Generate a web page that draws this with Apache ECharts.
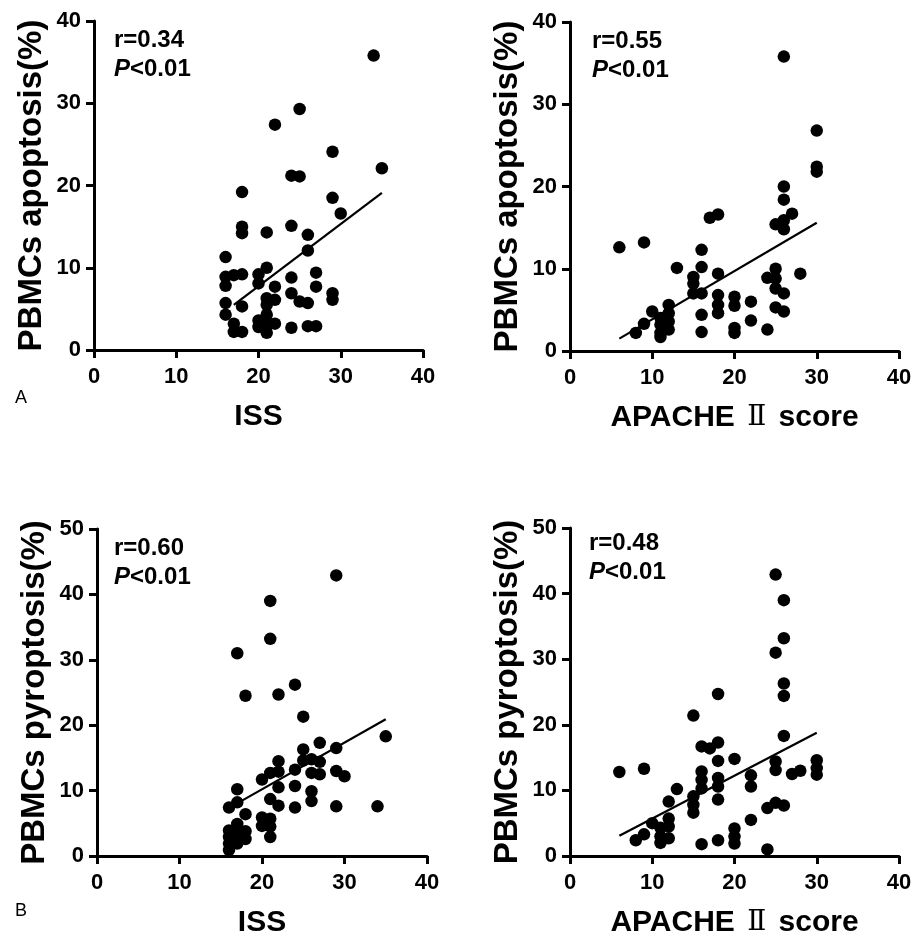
<!DOCTYPE html>
<html>
<head>
<meta charset="utf-8">
<script src="https://cdn.jsdelivr.net/npm/echarts@6/dist/echarts.min.js"></script>
<style>
html,body{margin:0;padding:0;background:#fff;}
#c{width:916px;height:939px;}
</style>
</head>
<body>
<div id="c"></div>
<script>
// ---------- data ----------
const issApoptosis = [[34,35.8],[25,29.3],[22,27.4],[29,24.1],[35,22.1],[24,21.2],[25,21.1],[18,19.2],[29,18.5],[30,16.6],[18,15.0],[18,14.2],[21,14.3],[24,15.1],[26,14.0],[26,12.1],[16,11.3],[21,10.0],[20,9.2],[20,8.1],[16,8.9],[16,7.8],[17,9.1],[18,9.2],[24,8.8],[27,9.4],[27,7.7],[22,7.7],[24,6.9],[29,6.9],[29,6.1],[21,6.3],[21,5.5],[22,6.1],[25,5.9],[26,5.7],[16,5.7],[18,5.3],[16,4.3],[21,4.3],[20,3.6],[20,2.8],[21,3.4],[21,2.1],[22,3.2],[17,3.2],[17,2.2],[18,2.2],[24,2.7],[26,2.9],[27,2.9],[21,2.9]];
const apacheApoptosis = [[26,35.8],[30,26.8],[30,22.4],[30,21.8],[26,20.0],[26,18.4],[25,15.4],[26,15.9],[27,16.7],[26,14.8],[17,16.2],[18,16.6],[6,12.6],[9,13.2],[16,12.3],[13,10.1],[15,9.0],[15,8.2],[15,7.0],[16,10.2],[16,7.0],[18,9.4],[18,6.8],[18,5.6],[18,4.6],[20,6.6],[20,5.5],[22,6.0],[22,3.7],[20,2.8],[20,2.2],[24,2.6],[16,2.3],[16,4.4],[25,10.0],[25,8.8],[24,8.9],[25,7.6],[26,7.0],[25,5.3],[26,4.8],[28,9.4],[10,4.8],[9,3.3],[8,2.2],[11,4.0],[11,3.2],[11,2.2],[11,1.7],[12,5.6],[12,4.6],[12,3.6],[12,2.6]];
const issPyroptosis = [[29,42.9],[21,39.0],[21,33.2],[17,31.0],[24,26.2],[18,24.5],[22,24.7],[25,21.3],[35,18.3],[27,17.3],[29,16.5],[25,16.3],[22,14.5],[24,13.2],[21,12.7],[22,12.9],[25,14.6],[26,14.8],[27,14.4],[26,12.7],[27,12.5],[29,13.0],[30,12.2],[20,11.7],[24,10.7],[22,10.5],[17,10.2],[26,9.9],[26,8.4],[21,8.7],[22,7.7],[24,7.4],[29,7.6],[34,7.6],[17,8.2],[16,7.4],[18,6.4],[20,5.9],[20,4.6],[21,5.7],[21,4.5],[21,2.9],[17,4.9],[16,3.9],[16,2.9],[16,1.9],[16,0.9],[17,3.9],[17,2.9],[17,1.9],[18,3.8],[18,2.6]];
const apachePyroptosis = [[25,42.9],[26,39.0],[26,33.2],[25,31.0],[26,26.3],[26,24.4],[18,24.7],[15,21.4],[26,18.3],[18,17.3],[16,16.7],[17,16.4],[18,14.5],[20,14.8],[25,14.4],[25,13.1],[30,14.6],[30,13.4],[30,12.4],[27,12.5],[28,13.0],[22,12.3],[22,10.6],[16,12.9],[16,11.6],[16,10.3],[18,11.9],[18,10.6],[18,8.6],[6,12.8],[9,13.3],[13,10.2],[12,8.3],[15,9.1],[15,7.8],[15,6.6],[24,7.3],[25,8.1],[26,7.7],[22,5.5],[10,5.0],[9,3.3],[8,2.4],[11,4.3],[11,3.0],[11,2.0],[12,5.7],[12,4.5],[12,2.7],[16,1.8],[18,2.4],[20,4.2],[20,3.0],[20,1.9],[24,1.0]];

const fitIssApoptosis = [[17,5.5],[35,19.1]];
const fitApacheApoptosis = [[6,1.5],[30,15.6]];
const fitIssPyroptosis = [[17.2,8.2],[35,20.9]];
const fitApachePyroptosis = [[6,3.1],[30,18.8]];

const rTexts = ['r=0.34','r=0.55','r=0.60','r=0.48'];
const pText = '<0.01';
const xNames = ['ISS','APACHE {r|Ⅱ} score','ISS','APACHE {r|Ⅱ} score'];
const yNames = ['PBMCs apoptosis(%)','PBMCs apoptosis(%)','PBMCs pyroptosis(%)','PBMCs pyroptosis(%)'];
const xMax = [40,40,40,40];
const yMax = [40,40,50,50];
const panelLetters = ['A','B'];

// ---------- layout ----------
const FONT = '"Liberation Sans", Arial, sans-serif';
const grids = [
  {left:94, top:21, width:329, height:329},
  {left:570, top:22, width:329, height:329},
  {left:97, top:529, width:330, height:330},
  {left:570, top:528, width:329, height:330}
];
const scatterSets = [issApoptosis, apacheApoptosis, issPyroptosis, apachePyroptosis];
const fitSets = [fitIssApoptosis, fitApacheApoptosis, fitIssPyroptosis, fitApachePyroptosis];
const annotPos = [[114,26],[592,27],[114,534],[589,529]];

const axisLineStyle = {lineStyle:{color:'#000', width:3}};
const tickStyle = {show:true, inside:false, length:8, lineStyle:{color:'#000', width:3}};
const labelStyle = {color:'#000', fontSize:22, fontWeight:'bold', fontFamily:FONT};

const xAxis = [], yAxis = [], series = [], graphic = [];
grids.forEach((g,i)=>{
  xAxis.push({
    type:'value', gridIndex:i, min:0, max:xMax[i], interval:10,
    axisLine:axisLineStyle, axisTick:tickStyle, splitLine:{show:false},
    axisLabel:Object.assign({margin:16}, labelStyle),
    name:xNames[i], nameLocation:'middle', nameGap:52,
    nameTextStyle:{color:'#000', fontSize:30, fontWeight:'bold', fontFamily:FONT,
      rich:{r:{fontFamily:'"DejaVu Serif", "Liberation Serif", serif', fontWeight:'normal', fontSize:28, color:'#000', padding:[0,4,0,4]}}}
  });
  yAxis.push({
    type:'value', gridIndex:i, min:0, max:yMax[i], interval:10,
    axisLine:axisLineStyle, axisTick:tickStyle, splitLine:{show:false},
    axisLabel:Object.assign({margin:13}, labelStyle),
    name:yNames[i], nameLocation:'middle', nameGap:46, nameRotate:90,
    nameTextStyle:{color:'#000', fontSize:33, fontWeight:'bold', fontFamily:FONT}
  });
  series.push({
    type:'scatter', xAxisIndex:i, yAxisIndex:i, data:scatterSets[i],
    symbol:'circle', symbolSize:12.5, itemStyle:{color:'#000', opacity:1}, z:2
  });
  series.push({
    type:'line', xAxisIndex:i, yAxisIndex:i, data:fitSets[i],
    showSymbol:false, symbol:'none', lineStyle:{color:'#000', width:2.2}, z:3
  });
  graphic.push({
    type:'text', left:annotPos[i][0], top:annotPos[i][1],
    style:{
      text:rTexts[i] + '\n{i|P}' + pText,
      fill:'#000', fontSize:24, fontWeight:'bold', fontFamily:FONT, lineHeight:29,
      rich:{i:{fontStyle:'italic', fontWeight:'bold', fontSize:24, fontFamily:FONT, fill:'#000', lineHeight:29}}
    }
  });
});
graphic.push({type:'text', left:15, top:389, style:{text:panelLetters[0], fill:'#000', fontSize:18, fontFamily:FONT}});
graphic.push({type:'text', left:15, top:902, style:{text:panelLetters[1], fill:'#000', fontSize:18, fontFamily:FONT}});

const chart = echarts.init(document.getElementById('c'), null, {renderer:'canvas'});
chart.setOption({
  backgroundColor:'#fff',
  animation:false,
  grid:grids,
  xAxis:xAxis,
  yAxis:yAxis,
  series:series,
  graphic:graphic
});
</script>
</body>
</html>
